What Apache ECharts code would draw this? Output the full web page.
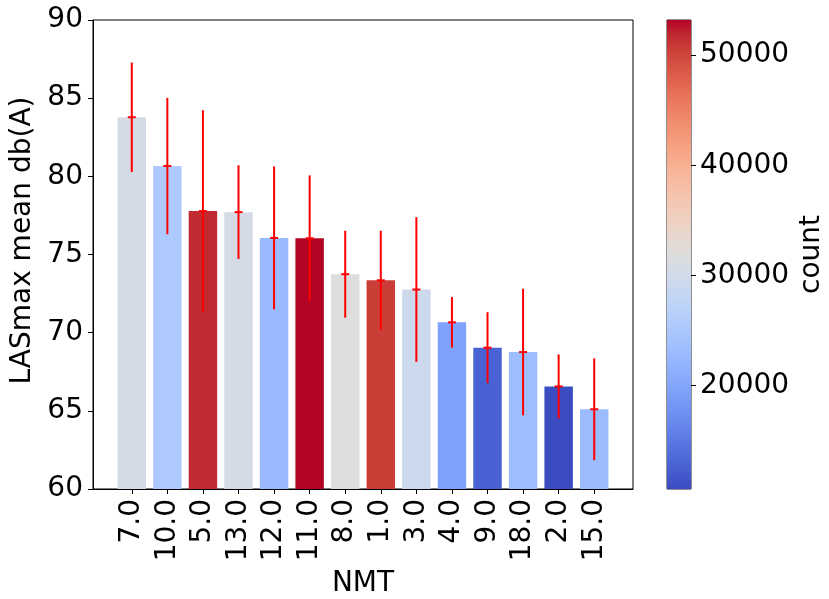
<!DOCTYPE html>
<html>
<head>
<meta charset="utf-8">
<script src="https://cdn.jsdelivr.net/npm/echarts@6/dist/echarts.min.js"></script>
<style>
  html, body { margin: 0; padding: 0; background: #fff; }
  #chart { width: 829px; height: 599px; }
</style>
</head>
<body>
<div id="chart"></div>
<script>
// NMT groups, ordered by mean level
const categories = ['7.0', '10.0', '5.0', '13.0', '12.0', '11.0', '8.0', '1.0', '3.0', '4.0', '9.0', '18.0', '2.0', '15.0'];
// mean LASmax per group, dB(A)
const means = [83.78, 80.66, 77.78, 77.71, 76.06, 76.04, 73.74, 73.35, 72.76, 70.66, 69.04, 68.76, 66.56, 65.10];
// standard deviation shown as error bar
const errors = [3.50, 4.36, 6.45, 3.00, 4.57, 4.02, 2.78, 3.17, 4.63, 1.62, 2.27, 4.05, 2.05, 3.26];
// number of records per group (drives bar colour)
const counts = [30580, 25270, 51700, 30500, 22750, 53180, 31900, 50500, 29350, 19570, 12760, 23180, 10630, 23000];
const countMin = 10630;
const countMax = 53180;
const countTicks = [20000, 30000, 40000, 50000];
const yTicksMin = 60, yTicksMax = 90, yStep = 5;

// coolwarm colour map (Moreland diverging), low -> high
const coolwarm = [
  [59,76,192],[68,90,204],[77,104,215],[87,117,225],[98,130,234],[108,142,241],
  [119,154,247],[130,165,251],[141,176,254],[152,185,255],[163,194,255],[174,201,253],
  [184,208,249],[194,213,244],[204,217,238],[213,219,230],[221,221,221],[229,216,209],
  [236,211,197],[241,204,185],[245,196,173],[247,187,160],[247,177,148],[247,166,135],
  [244,154,123],[241,141,111],[236,127,99],[229,112,88],[222,96,77],[213,80,66],
  [203,62,56],[192,40,47],[180,4,38]
].map(c => 'rgb(' + c.join(',') + ')');

const FONT = 'DejaVu Sans';
const FS = 28;

const barData = categories.map((c, i) => [i, means[i], errors[i], counts[i]]);

const chart = echarts.init(document.getElementById('chart'), null, { renderer: 'canvas' });

chart.setOption({
  animation: false,
  backgroundColor: '#fff',
  textStyle: { fontFamily: FONT },
  grid: [
    { left: 93, top: 20, width: 540, height: 469, outerBoundsMode: 'none', containLabel: false,
      show: true, borderColor: '#000', borderWidth: 1, backgroundColor: 'transparent' },
    { left: 667, top: 20, width: 24, height: 469, outerBoundsMode: 'none', containLabel: false,
      show: true, borderColor: '#222', borderWidth: 1, backgroundColor: 'transparent' }
  ],
  visualMap: {
    type: 'continuous',
    show: false,
    min: countMin,
    max: countMax,
    dimension: 3,
    seriesIndex: 0,
    inRange: { color: coolwarm }
  },
  xAxis: [
    {
      gridIndex: 0,
      type: 'value',
      min: -1.09,
      max: categories.length - 1 + 1.09,
      splitLine: { show: false },
      axisLine: { show: true, onZero: false, lineStyle: { color: '#000', width: 1 } },
      axisTick: { show: true, length: 5, lineStyle: { color: '#000' }, customValues: categories.map((c, i) => i) },
      axisLabel: {
        customValues: categories.map((c, i) => i),
        formatter: v => categories[Math.round(v)],
        rotate: 90,
        margin: 10,
        color: '#000',
        fontSize: FS,
        fontFamily: FONT
      },
      name: 'NMT',
      nameLocation: 'middle',
      nameGap: 78,
      nameTextStyle: { color: '#000', fontSize: FS, fontFamily: FONT }
    },
    { gridIndex: 1, type: 'value', min: 0, max: 1, show: false }
  ],
  yAxis: [
    {
      gridIndex: 0,
      type: 'value',
      min: yTicksMin,
      max: yTicksMax,
      interval: yStep,
      splitLine: { show: false },
      axisLine: { show: true, onZero: false, lineStyle: { color: '#000', width: 1 } },
      axisTick: { show: true, length: 5, lineStyle: { color: '#000' } },
      axisLabel: { margin: 10, color: '#000', fontSize: FS, fontFamily: FONT },
      name: 'LASmax mean db(A)',
      nameLocation: 'middle',
      nameGap: 53,
      nameTextStyle: { color: '#000', fontSize: FS, fontFamily: FONT, padding: [0, 0, 0, 28] }
    },
    {
      gridIndex: 1,
      type: 'value',
      min: countMin,
      max: countMax,
      position: 'right',
      splitLine: { show: false },
      axisLine: { show: false, onZero: false },
      axisTick: { show: true, length: 5, lineStyle: { color: '#000' }, customValues: countTicks },
      axisLabel: {
        customValues: countTicks,
        formatter: v => String(v),
        margin: 9,
        color: '#000',
        fontSize: FS,
        fontFamily: FONT
      },
      name: 'count',
      nameLocation: 'middle',
      nameRotate: 90,
      nameGap: 107,
      nameTextStyle: { color: '#000', fontSize: FS, fontFamily: FONT }
    }
  ],
  series: [
    {
      // bars with error bars; the mean gets a short horizontal tick
      type: 'custom',
      xAxisIndex: 0,
      yAxisIndex: 0,
      data: barData,
      encode: { x: 0, y: 1 },
      clip: true,
      renderItem: function (params, api) {
        const x = api.value(0);
        const m = api.value(1);
        const e = api.value(2);
        const base = api.coord([x - 0.4, yTicksMin]);
        const top = api.coord([x + 0.4, m]);
        const center = api.coord([x, m]);
        const hi = api.coord([x, m + e]);
        const lo = api.coord([x, m - e]);
        return {
          type: 'group',
          children: [
            {
              type: 'rect',
              shape: { x: base[0], y: top[1], width: top[0] - base[0], height: base[1] - top[1] },
              style: { fill: api.visual('color') }
            },
            {
              type: 'line',
              shape: { x1: hi[0], y1: hi[1], x2: lo[0], y2: lo[1] },
              style: { stroke: '#ff0000', lineWidth: 2 }
            },
            {
              type: 'line',
              shape: { x1: center[0] - 4, y1: center[1], x2: center[0] + 4, y2: center[1] },
              style: { stroke: '#ff0000', lineWidth: 2 }
            }
          ]
        };
      },
      z: 2
    },
    {
      // colour bar for the count scale
      type: 'custom',
      xAxisIndex: 1,
      yAxisIndex: 1,
      data: [[0, countMin, countMax]],
      renderItem: function (params, api) {
        const p0 = api.coord([0, api.value(1)]);
        const p1 = api.coord([1, api.value(2)]);
        const stops = coolwarm.map((c, i) => ({ offset: 1 - i / (coolwarm.length - 1), color: c })).reverse();
        return {
          type: 'rect',
          shape: { x: p0[0], y: p1[1], width: p1[0] - p0[0], height: p0[1] - p1[1] },
          style: { fill: new echarts.graphic.LinearGradient(0, 0, 0, 1, stops) }
        };
      },
      z: 1
    }
  ]
});
</script>
</body>
</html>
